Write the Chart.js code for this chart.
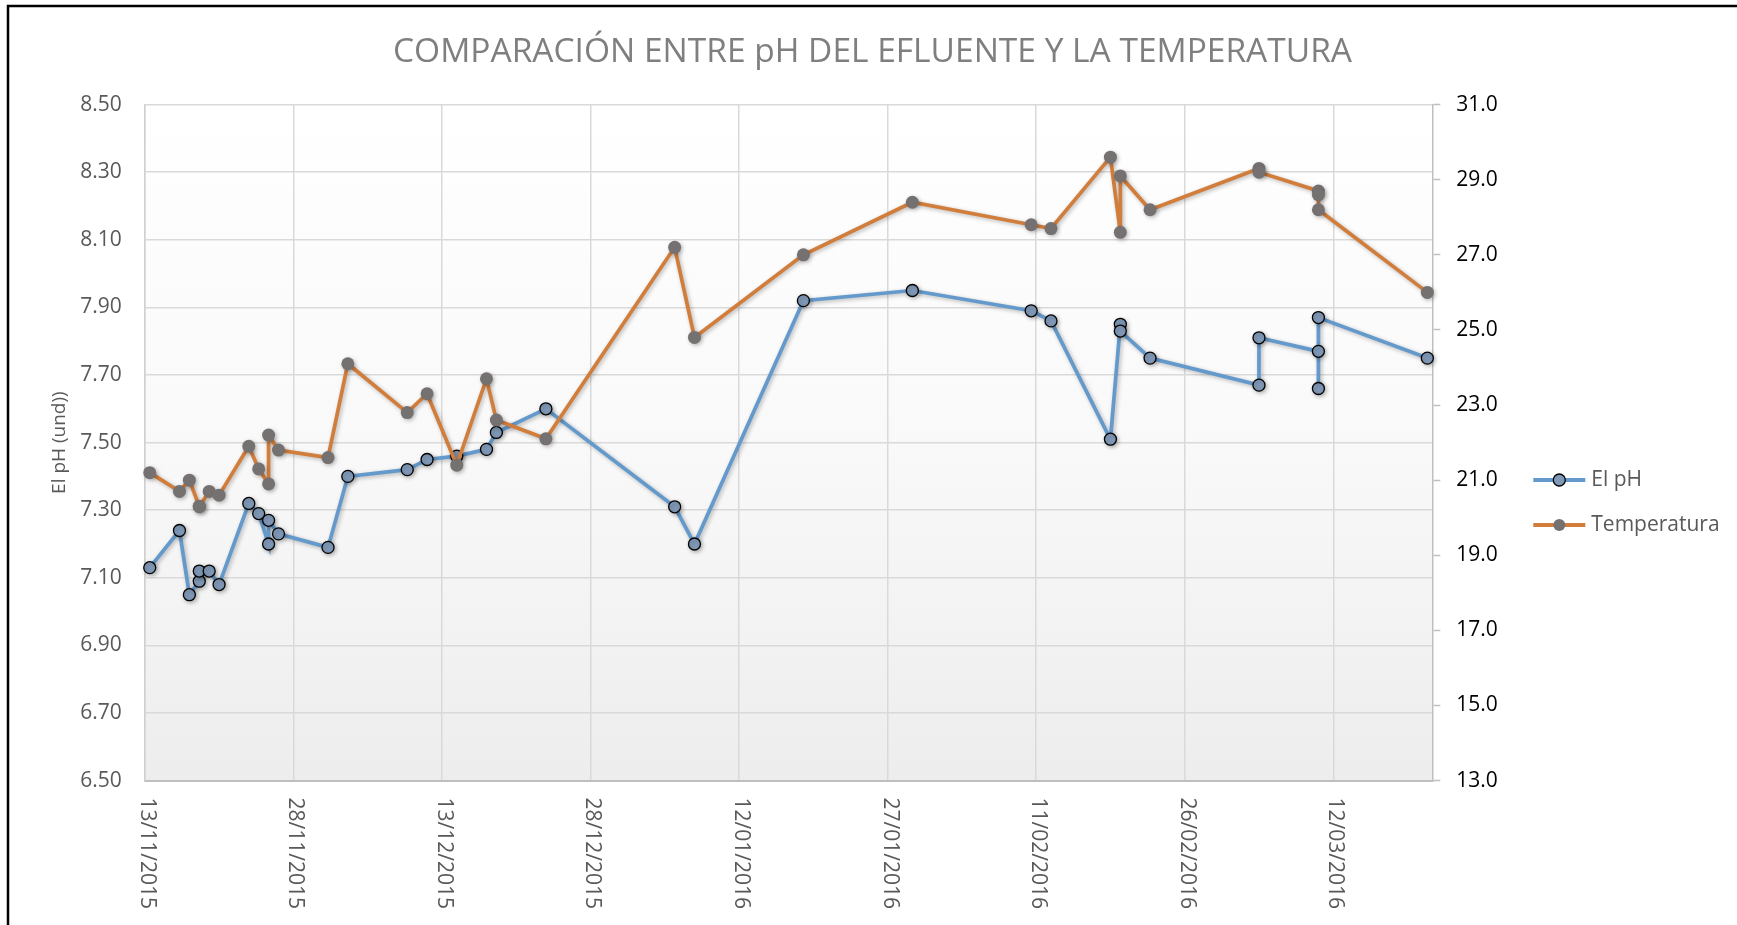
<!DOCTYPE html>
<html lang="es">
<head>
<meta charset="utf-8">
<title>Comparación entre pH del efluente y la temperatura</title>
<script src="https://cdn.jsdelivr.net/npm/chart.js@4.4.1/dist/chart.umd.min.js"></script>
<style>
    html, body { margin: 0; padding: 0; background: #ffffff; }
    #wrap { width: 1737px; height: 925px; }
</style>
</head>
<body>
<div id="wrap"><canvas id="phChart" width="1737" height="925"></canvas></div>
<script>
// fechas de muestreo (dd/mm/aaaa), una fila por muestra
const fechas = [
    "13/11/2015", "16/11/2015", "17/11/2015", "18/11/2015", "18/11/2015", "19/11/2015",
    "20/11/2015", "23/11/2015", "24/11/2015", "25/11/2015", "25/11/2015", "26/11/2015",
    "01/12/2015", "03/12/2015", "09/12/2015", "11/12/2015", "14/12/2015", "17/12/2015",
    "18/12/2015", "23/12/2015", "05/01/2016", "07/01/2016", "18/01/2016", "29/01/2016",
    "10/02/2016", "12/02/2016", "18/02/2016", "19/02/2016", "19/02/2016", "22/02/2016",
    "04/03/2016", "04/03/2016", "10/03/2016", "10/03/2016", "10/03/2016", "21/03/2016"
];

// pH del efluente (und)
const phValues = [
    7.13, 7.24, 7.05, 7.09, 7.12, 7.12,
    7.08, 7.32, 7.29, 7.20, 7.27, 7.23,
    7.19, 7.40, 7.42, 7.45, 7.46, 7.48,
    7.53, 7.60, 7.31, 7.20, 7.92, 7.95,
    7.89, 7.86, 7.51, 7.85, 7.83, 7.75,
    7.67, 7.81, 7.77, 7.66, 7.87, 7.75
];

// temperatura (°C)
const tempValues = [
    21.2, 20.7, 21.0, 20.3, 20.3, 20.7,
    20.6, 21.9, 21.3, 20.9, 22.2, 21.8,
    21.6, 24.1, 22.8, 23.3, 21.4, 23.7,
    22.6, 22.1, 27.2, 24.8, 27.0, 28.4,
    27.8, 27.7, 29.6, 27.6, 29.1, 28.2,
    29.3, 29.2, 28.7, 28.6, 28.2, 26.0
];

// etiquetas del eje de fechas (cada 15 días)
const tickLabels = [
    "13/11/2015", "28/11/2015", "13/12/2015", "28/12/2015", "12/01/2016",
    "27/01/2016", "11/02/2016", "26/02/2016", "12/03/2016"
];
const axisStart = "13/11/2015";
const axisEnd = "22/03/2016";

const FONT = "'Open Sans', 'DejaVu Sans', sans-serif";
const BLUE = "#6499cb";
const ORANGE = "#d17d3c";
const BLUE_MARK = "#8199b8";
const GRAY_MARK = "#767171";

// días transcurridos desde el inicio del eje
const toDay = (s) => {
    const [d, m, y] = s.split("/").map(Number);
    const [d0, m0, y0] = axisStart.split("/").map(Number);
    return (Date.UTC(y, m - 1, d) - Date.UTC(y0, m0 - 1, d0)) / 86400000;
};

// each sample sits in the middle of its day
const phPoints = fechas.map((f, i) => ({ x: toDay(f) + 0.5, y: phValues[i] }));
const tempPoints = fechas.map((f, i) => ({ x: toDay(f) + 0.5, y: tempValues[i] }));

// plot area: white to light gray gradient + outer frame
const backgroundPlugin = {
    id: "plotBackground",
    beforeDraw(chart) {
        const { ctx, chartArea: a } = chart;
        ctx.save();
        ctx.fillStyle = "#ffffff";
        ctx.fillRect(0, 0, chart.width, chart.height);
        const g = ctx.createLinearGradient(0, a.top, 0, a.bottom);
        g.addColorStop(0, "#ffffff");
        g.addColorStop(0.5, "#f9f9f9");
        g.addColorStop(1, "#ededed");
        ctx.fillStyle = g;
        ctx.fillRect(a.left, a.top, a.right - a.left, a.bottom - a.top);
        ctx.restore();
    },
    afterDraw(chart) {
        const { ctx } = chart;
        ctx.save();
        ctx.strokeStyle = "#000000";
        ctx.lineWidth = 2.5;
        ctx.strokeRect(8, 6, chart.width + 20, chart.height + 20);
        ctx.restore();
    }
};

// soft shadow under lines like the spreadsheet style
const shadowPlugin = {
    id: "lineShadow",
    beforeDatasetDraw(chart) {
        const ctx = chart.ctx;
        ctx.save();
        ctx.shadowColor = "rgba(0, 0, 0, 0.28)";
        ctx.shadowBlur = 4;
        ctx.shadowOffsetX = 1.5;
        ctx.shadowOffsetY = 1.5;
    },
    afterDatasetDraw(chart) {
        chart.ctx.restore();
    }
};

// date labels rotated clockwise (read top to bottom)
const xLabelPlugin = {
    id: "xLabels",
    afterDraw(chart) {
        const { ctx, chartArea, scales: { x } } = chart;
        ctx.save();
        ctx.font = "21px " + FONT;
        ctx.fillStyle = "#595959";
        ctx.textAlign = "left";
        ctx.textBaseline = "middle";
        tickLabels.forEach(label => {
            const px = x.getPixelForValue(toDay(label));
            ctx.save();
            ctx.translate(px + 2, chartArea.bottom + 17);
            ctx.rotate(Math.PI / 2);
            ctx.fillText(label, 0, 0);
            ctx.restore();
        });
        ctx.restore();
    }
};

// legend: line + marker + text, to the right of the secondary axis
const legendPlugin = {
    id: "sideLegend",
    afterDraw(chart) {
        const { ctx, chartArea } = chart;
        const x0 = chartArea.right + 101;
        const rows = [
            { text: chart.data.datasets[0].label, color: BLUE, fill: BLUE_MARK, border: true, y: 480 },
            { text: chart.data.datasets[1].label, color: ORANGE, fill: GRAY_MARK, border: false, y: 525 }
        ];
        ctx.save();
        rows.forEach(r => {
            ctx.strokeStyle = r.color;
            ctx.lineWidth = 4;
            ctx.beginPath();
            ctx.moveTo(x0, r.y);
            ctx.lineTo(x0 + 52, r.y);
            ctx.stroke();
            ctx.beginPath();
            ctx.arc(x0 + 26, r.y, 6, 0, Math.PI * 2);
            ctx.fillStyle = r.fill;
            ctx.fill();
            if (r.border) {
                ctx.lineWidth = 1.3;
                ctx.strokeStyle = "#000000";
                ctx.stroke();
            }
            ctx.font = "21px " + FONT;
            ctx.fillStyle = "#595959";
            ctx.textAlign = "left";
            ctx.textBaseline = "middle";
            ctx.fillText(r.text, x0 + 58, r.y);
        });
        ctx.restore();
    }
};

const ctx = document.getElementById("phChart").getContext("2d");

new Chart(ctx, {
    type: "line",
    data: {
        datasets: [
            {
                label: "El pH",
                data: phPoints,
                yAxisID: "yPh",
                borderColor: BLUE,
                borderWidth: 3.7,
                pointRadius: 6,
                pointBackgroundColor: BLUE_MARK,
                pointBorderColor: "#000000",
                pointBorderWidth: 1.3,
                tension: 0,
                clip: false,
                order: 1
            },
            {
                label: "Temperatura",
                data: tempPoints,
                yAxisID: "yTemp",
                borderColor: ORANGE,
                borderWidth: 3.7,
                pointRadius: 6.5,
                pointBackgroundColor: GRAY_MARK,
                pointBorderColor: GRAY_MARK,
                pointBorderWidth: 0,
                tension: 0,
                clip: false,
                order: 0
            }
        ]
    },
    options: {
        responsive: false,
        animation: false,
        devicePixelRatio: 1,
        layout: { padding: { left: 8, top: 6, right: 0, bottom: 0 } },
        plugins: {
            legend: { display: false },
            tooltip: { enabled: false },
            title: {
                display: true,
                text: "COMPARACIÓN ENTRE pH DEL EFLUENTE Y LA TEMPERATURA",
                color: "#7f7f7f",
                font: { family: FONT, size: 33.5, weight: "normal" },
                padding: { top: 26, bottom: 32.4 }
            }
        },
        scales: {
            x: {
                type: "linear",
                min: 0,
                max: toDay(axisEnd),
                afterBuildTicks: (scale) => {
                    scale.ticks = tickLabels.map(l => ({ value: toDay(l) }));
                },
                afterFit: (scale) => { scale.height = 144.4; },
                ticks: { display: false },
                grid: { color: "#d9d9d9", lineWidth: 1.5, drawTicks: false },
                border: { color: "#bfbfbf", width: 2 }
            },
            yPh: {
                position: "left",
                min: 6.5,
                max: 8.5,
                afterFit: (scale) => { scale.width = 136.8; },
                ticks: {
                    stepSize: 0.2,
                    callback: (v) => v.toFixed(2),
                    color: "#595959",
                    font: { family: FONT, size: 21 },
                    padding: 23
                },
                grid: { color: "#d9d9d9", lineWidth: 1.5, drawTicks: false },
                border: { color: "#d0d0d0", width: 1.5 },
                title: {
                    display: true,
                    text: "El pH (und))",
                    color: "#595959",
                    font: { family: FONT, size: 19 },
                    padding: { top: 40, bottom: 0 }
                }
            },
            yTemp: {
                position: "right",
                min: 13,
                max: 31,
                afterFit: (scale) => { scale.width = 1737 - 1432.3; },
                ticks: {
                    stepSize: 2,
                    callback: (v) => v.toFixed(1),
                    color: "#000000",
                    font: { family: FONT, size: 21 },
                    padding: 16
                },
                grid: { drawOnChartArea: false, drawTicks: true, tickLength: 8, color: "#bfbfbf", tickWidth: 1.5 },
                border: { color: "#bfbfbf", width: 1.5 }
            }
        }
    },
    plugins: [backgroundPlugin, shadowPlugin, xLabelPlugin, legendPlugin]
});
</script>
</body>
</html>
